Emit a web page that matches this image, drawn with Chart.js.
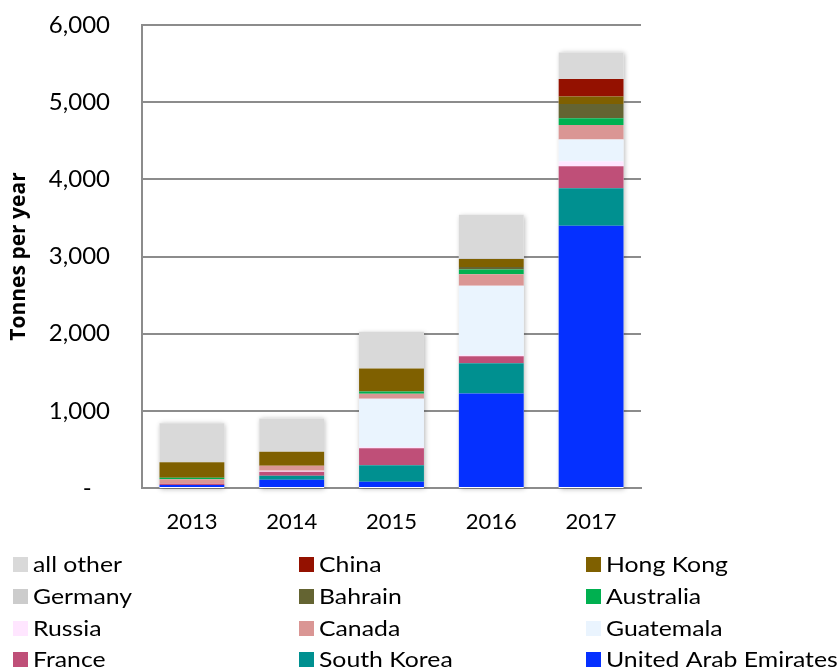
<!DOCTYPE html>
<html>
<head>
<meta charset="utf-8">
<script src="https://cdn.jsdelivr.net/npm/chart.js@4.4.1/dist/chart.umd.min.js"></script>
<style>
  html, body { margin: 0; padding: 0; background: #ffffff; }
  #wrap { width: 840px; height: 668px; position: relative; }
</style>
</head>
<body>
<div id="wrap"><canvas id="c" width="840" height="668"></canvas></div>
<script>
// ---- Data (tonnes per year) ----
const years = ['2013', '2014', '2015', '2016', '2017'];

// Stack order bottom -> top
const unitedArabEmirates = [39, 107, 82, 1225, 3400];
const southKorea         = [0, 52, 212, 392, 485];
const france             = [17, 52, 220, 91, 285];
const russia             = [0, 13, 17, 17, 61];
const guatemala          = [0, 0, 625, 897, 284];
const canada             = [57, 65, 65, 147, 190];
const australia          = [21, 0, 31, 61, 85];
const bahrain            = [0, 0, 0, 34, 187];
const hongKong           = [199, 181, 298, 103, 98];
const china              = [0, 0, 0, 0, 225];
const germany            = [0, 0, 0, 13, 0];
const allOther           = [505, 432, 474, 561, 344];

const yTicks = [0, 1000, 2000, 3000, 4000, 5000, 6000];

const seriesNames  = ['United Arab Emirates', 'South Korea', 'France', 'Russia', 'Guatemala', 'Canada',
                      'Australia', 'Bahrain', 'Hong Kong', 'China', 'Germany', 'all other'];
const seriesValues = [unitedArabEmirates, southKorea, france, russia, guatemala, canada,
                      australia, bahrain, hongKong, china, germany, allOther];
const seriesColors = ['#0530ff', '#009090', '#bf4f78', '#ffe6ff', '#eaf4fe', '#da9694',
                      '#00b050', '#646432', '#7f6000', '#941100', '#cccccc', '#d9d9d9'];

// Legend order (row-major, 3 columns)
const legendOrder = ['all other', 'China', 'Hong Kong',
                     'Germany', 'Bahrain', 'Australia',
                     'Russia', 'Canada', 'Guatemala',
                     'France', 'South Korea', 'United Arab Emirates'];

const FONT = "Lato, 'Open Sans', 'DejaVu Sans', sans-serif";

const datasets = seriesNames.map((n, i) => ({
  label: n,
  data: seriesValues[i],
  backgroundColor: seriesColors[i],
  borderWidth: 0,
  barPercentage: 0.65,
  categoryPercentage: 1.0
}));

// Shadow behind each full stacked bar
const shadowPlugin = {
  id: 'barShadow',
  beforeDatasetsDraw(chart) {
    const ctx = chart.ctx;
    const meta0 = chart.getDatasetMeta(0);
    const ys = chart.scales.y;
    ctx.save();
    ctx.shadowColor = 'rgba(0,0,0,0.3)';
    ctx.shadowBlur = 5;
    ctx.shadowOffsetX = 1;
    ctx.shadowOffsetY = 1;
    ctx.fillStyle = '#ffffff';
    meta0.data.forEach((el, idx) => {
      let total = 0;
      seriesValues.forEach(arr => { total += arr[idx]; });
      const top = ys.getPixelForValue(total);
      const bottom = ys.getPixelForValue(0);
      const w = el.width;
      ctx.fillRect(el.x - w / 2, top, w, bottom - top);
    });
    ctx.restore();
  }
};

// Grid-style legend below the chart
const legendPlugin = {
  id: 'gridLegend',
  afterDraw(chart) {
    const ctx = chart.ctx;
    const colX = [13, 299, 586];
    const rowY = [564, 596, 628, 659];
    ctx.save();
    ctx.font = "21px " + FONT;
    ctx.textBaseline = 'middle';
    ctx.textAlign = 'left';
    legendOrder.forEach((name, k) => {
      const col = k % 3, row = Math.floor(k / 3);
      const di = seriesNames.indexOf(name);
      const x = colX[col], y = rowY[row];
      ctx.fillStyle = seriesColors[di];
      ctx.fillRect(x, y - 7, 15, 15);
      ctx.fillStyle = '#000000';
      ctx.save();
      ctx.translate(x + 20, y + 1);
      ctx.scale(1.18, 1);
      ctx.fillText(name, 0, 0);
      ctx.restore();
    });
    ctx.restore();
  }
};

new Chart(document.getElementById('c'), {
  type: 'bar',
  data: { labels: years, datasets },
  plugins: [shadowPlugin, legendPlugin],
  options: {
    responsive: false,
    animation: false,
    layout: { padding: { top: 25, right: 199, left: 0, bottom: 0 } },
    plugins: {
      legend: { display: false },
      tooltip: { enabled: false }
    },
    scales: {
      x: {
        stacked: true,
        grid: { display: false, drawTicks: false },
        border: { display: true, color: '#8c8c8c', width: 2 },
        ticks: { color: '#000', font: { family: FONT, size: 22 }, padding: 21 },
        afterFit(scale) { scale.height = 180; scale.paddingLeft = 0; scale.paddingRight = 0; }
      },
      y: {
        stacked: true,
        min: 0,
        max: 6000,
        afterBuildTicks(scale) { scale.ticks = yTicks.map(v => ({ value: v })); },
        grid: { color: '#8c8c8c', lineWidth: 2, drawTicks: false },
        border: { display: true, color: '#8c8c8c', width: 2 },
        ticks: {
          color: '#000',
          font: { family: FONT, size: 24 },
          padding: 32,
          callback: v => v === 0 ? '-   ' : v.toLocaleString('en-US')
        },
        title: {
          display: true,
          text: 'Tonnes per year',
          color: '#000',
          font: { family: "'Open Sans', 'DejaVu Sans', sans-serif", size: 21, weight: 'bold' },
          padding: { top: 6, bottom: 0 }
        },
        afterFit(scale) { scale.width = 142; scale.paddingTop = 0; scale.paddingBottom = 0; }
      }
    }
  }
});
</script>
</body>
</html>
